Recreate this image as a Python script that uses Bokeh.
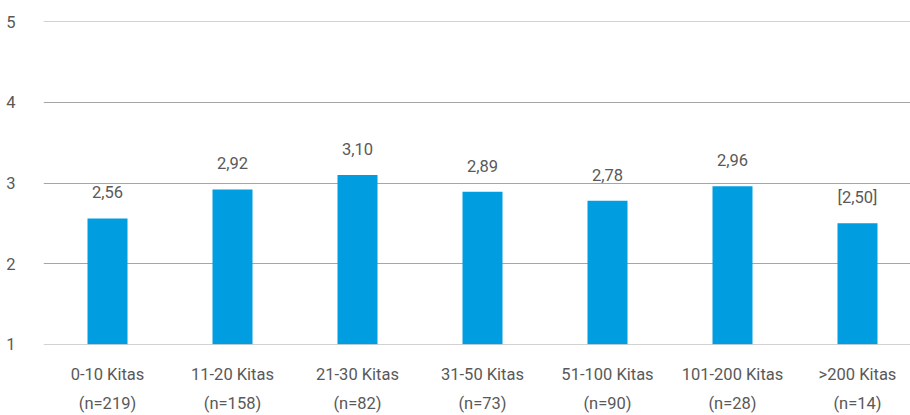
from bokeh.plotting import figure
from bokeh.models import Range1d, FixedTicker, LinearAxis, ColumnDataSource
from bokeh.embed import file_html
from bokeh.resources import INLINE

categories = ["0-10 Kitas", "11-20 Kitas", "21-30 Kitas", "31-50 Kitas", "51-100 Kitas", "101-200 Kitas", ">200 Kitas"]
sample_sizes = ["(n=219)", "(n=158)", "(n=82)", "(n=73)", "(n=90)", "(n=28)", "(n=14)"]
values = [2.56, 2.92, 3.10, 2.89, 2.78, 2.96, 2.50]
value_labels = ["2,56", "2,92", "3,10", "2,89", "2,78", "2,96", "[2,50]"]
y_ticks = [1, 2, 3, 4, 5]

FONT = "Roboto"
TXT = "#595959"
BAR = "#009EE0"
FS = "16.5px"

xs = list(range(len(categories)))
src = ColumnDataSource(dict(x=xs, top=values, lab=value_labels))

p = figure(width=910, height=415, output_backend="svg", toolbar_location=None,
           x_range=Range1d(-0.512, 6.424), y_range=Range1d(0.997, 5.003),
           min_border_left=43, min_border_right=0, min_border_top=21, min_border_bottom=0,
           x_axis_location=None)
p.outline_line_color = None
p.background_fill_color = "white"
p.border_fill_color = "white"

p.vbar(x="x", top="top", bottom=1, width=0.32, source=src, fill_color=BAR, line_color=None)
p.text(x="x", y="top", text="lab", source=src, text_align="center", text_baseline="middle",
       y_offset=-26, text_font_size=FS, text_color=TXT, text_font={"value": FONT})

# y axis
ya = p.yaxis[0]
ya.ticker = FixedTicker(ticks=y_ticks)
ya.axis_line_color = None
ya.major_tick_line_color = None
ya.minor_tick_line_color = None
ya.major_label_standoff = 22
ya.major_label_text_font = FONT
ya.major_label_text_font_size = FS
ya.major_label_text_color = TXT

p.ygrid.ticker = FixedTicker(ticks=y_ticks)
p.ygrid.grid_line_color = "#a6a6a6"
p.ygrid.grid_line_width = 1
p.xgrid.grid_line_color = None

def cat_axis(labels, standoff):
    ax = LinearAxis(ticker=FixedTicker(ticks=xs),
                    major_label_overrides={i: l for i, l in enumerate(labels)})
    ax.axis_line_color = None
    ax.major_tick_line_color = None
    ax.minor_tick_line_color = None
    ax.major_label_standoff = standoff
    ax.major_label_text_font = FONT
    ax.major_label_text_font_size = FS
    ax.major_label_text_color = TXT
    return ax

p.add_layout(cat_axis(categories, 14), "below")
p.add_layout(cat_axis(sample_sizes, 1), "below")

open("out.html", "w").write(file_html(p, INLINE))
